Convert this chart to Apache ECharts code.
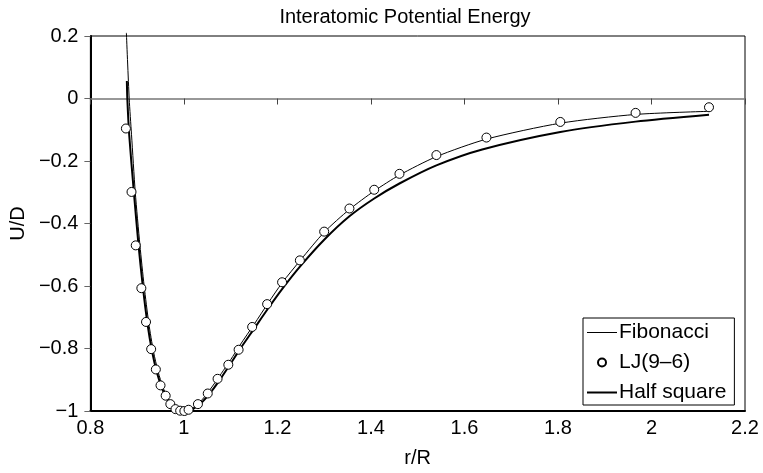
<!DOCTYPE html>
<html>
<head>
<meta charset="utf-8">
<script src="https://cdn.jsdelivr.net/npm/echarts@6/dist/echarts.min.js"></script>
<style>html,body{margin:0;padding:0;background:#fff;}#c{width:763px;height:473px;}</style>
</head>
<body>
<div id="c"></div>
<script>
// ---- data ----
var titleText = 'Interatomic Potential Energy';
var xName = 'r/R';
var yName = 'U/D';
var seriesNames = ['Fibonacci', 'LJ(9–6)', 'Half square'];

var ljR = [0.876, 0.888, 0.897, 0.909, 0.919, 0.930, 0.940, 0.950, 0.961, 0.971, 0.982, 0.992, 1.001, 1.010, 1.030, 1.051, 1.072, 1.095, 1.117, 1.146, 1.178, 1.210, 1.248, 1.300, 1.354, 1.407, 1.461, 1.540, 1.647, 1.805, 1.966, 2.123];
var ljU = [-0.096, -0.299, -0.470, -0.607, -0.715, -0.802, -0.867, -0.918, -0.951, -0.978, -0.994, -0.999, -1.000, -0.996, -0.978, -0.944, -0.897, -0.852, -0.804, -0.731, -0.658, -0.588, -0.518, -0.426, -0.352, -0.292, -0.241, -0.181, -0.125, -0.075, -0.046, -0.028];

var fibR = [0.877, 0.883, 0.888, 0.896, 0.906, 0.915, 0.925, 0.935, 0.945, 0.955, 0.965, 0.975, 0.990, 1.000, 1.020, 1.040, 1.060, 1.080, 1.100, 1.120, 1.150, 1.180, 1.210, 1.250, 1.300, 1.354, 1.407, 1.461, 1.540, 1.647, 1.805, 1.966, 2.123];
var fibU = [0.21, 0.0, -0.116, -0.300, -0.470, -0.600, -0.720, -0.810, -0.875, -0.923, -0.957, -0.981, -0.997, -1.000, -0.990, -0.962, -0.923, -0.880, -0.836, -0.789, -0.723, -0.655, -0.590, -0.516, -0.428, -0.355, -0.296, -0.245, -0.186, -0.130, -0.079, -0.051, -0.041];

var hsR = [0.878, 0.879, 0.883, 0.893, 0.903, 0.912, 0.922, 0.932, 0.942, 0.952, 0.962, 0.975, 0.990, 1.005, 1.020, 1.040, 1.060, 1.080, 1.100, 1.120, 1.150, 1.180, 1.210, 1.250, 1.300, 1.354, 1.407, 1.461, 1.540, 1.638, 1.805, 1.966, 2.123];
var hsU = [0.056, 0.0, -0.116, -0.300, -0.470, -0.600, -0.720, -0.810, -0.875, -0.922, -0.957, -0.983, -0.997, -1.000, -0.993, -0.970, -0.935, -0.893, -0.848, -0.802, -0.737, -0.672, -0.610, -0.535, -0.452, -0.377, -0.320, -0.272, -0.214, -0.163, -0.107, -0.074, -0.052];

var xMin = 0.8, xMax = 2.2, xStep = 0.2;
var yMin = -1, yMax = 0.2, yStep = 0.2;

function pairs(a, b) { return a.map(function (v, i) { return [v, b[i]]; }); }
var FONT = '"Liberation Sans", Arial, Helvetica, sans-serif';
function fmtNum(v) {
  var s = String(Math.round(v * 1000) / 1000);
  return s.replace('-', '\u2212');
}

var chart = echarts.init(document.getElementById('c'), null, { renderer: 'canvas' });
chart.setOption({
  animation: false,
  backgroundColor: '#fff',
  textStyle: { fontFamily: FONT, color: '#000' },
  title: {
    text: titleText,
    left: 400, textAlign: 'center', top: 2,
    textStyle: { fontFamily: FONT, fontSize: 20, fontWeight: 'normal', color: '#000' }
  },
  grid: { left: 85, right: 18, top: 36, bottom: 57, show: true, borderColor: '#000', borderWidth: 1, backgroundColor: 'transparent' },
  legend: {
    orient: 'vertical',
    left: 583, top: 318,
    padding: [4, 8, 2, 4],
    backgroundColor: '#fff',
    borderColor: '#000', borderWidth: 1,
    itemWidth: 30, itemHeight: 8, itemGap: 9,
    textStyle: { fontFamily: FONT, fontSize: 21, color: '#000', padding: [0, 0, 0, -3] },
    data: [
      { name: seriesNames[0], icon: 'path://M0,0 H30 V1 H0 Z' },
      { name: seriesNames[1], icon: 'circle' },
      { name: seriesNames[2], icon: 'path://M0,0 H30 V2 H0 Z' }
    ]
  },
  xAxis: [{
    type: 'value', min: xMin, max: xMax, interval: xStep,
    name: xName, nameLocation: 'middle', nameGap: 37,
    nameTextStyle: { fontFamily: FONT, fontSize: 20, color: '#000' },
    axisLine: { onZero: false, lineStyle: { color: '#000', width: 2 } },
    axisTick: { show: false },
    axisLabel: { fontFamily: FONT, fontSize: 20, color: '#000', margin: 7, formatter: fmtNum },
    splitLine: { show: false }
  }, {
    type: 'value', min: xMin, max: xMax, interval: xStep, position: 'bottom',
    axisLine: { onZero: true, lineStyle: { color: '#777', width: 1.5 } },
    axisTick: { show: true, length: 6, lineStyle: { color: '#444', width: 1 } },
    axisLabel: { show: false },
    splitLine: { show: false }
  }],
  yAxis: {
    type: 'value', min: yMin, max: yMax, interval: yStep,
    name: yName, nameLocation: 'middle', nameGap: 60, nameRotate: 90,
    nameTextStyle: { fontFamily: FONT, fontSize: 20, color: '#000' },
    axisLine: { onZero: false, lineStyle: { color: '#000', width: 2 } },
    axisTick: { show: true, length: 6, lineStyle: { color: '#666', width: 1 } },
    axisLabel: { fontFamily: FONT, fontSize: 20, color: '#000', margin: 12, formatter: fmtNum },
    splitLine: { show: false }
  },
  series: [{
    name: seriesNames[0], type: 'line', data: pairs(fibR, fibU),
    showSymbol: false, symbol: 'none', clip: false, z: 2,
    smooth: 0.25,
    lineStyle: { color: '#000', width: 1 }, itemStyle: { color: '#000' }
  }, {
    name: seriesNames[1], type: 'scatter', data: pairs(ljR, ljU),
    symbol: 'circle', symbolSize: 9, z: 4,
    itemStyle: { color: '#fff', borderColor: '#000', borderWidth: 1, opacity: 1 }
  }, {
    name: seriesNames[2], type: 'line', data: pairs(hsR, hsU),
    showSymbol: false, symbol: 'none', z: 3,
    smooth: 0.25,
    lineStyle: { color: '#000', width: 2 }, itemStyle: { color: '#000' }
  }]
});
</script>
</body>
</html>
